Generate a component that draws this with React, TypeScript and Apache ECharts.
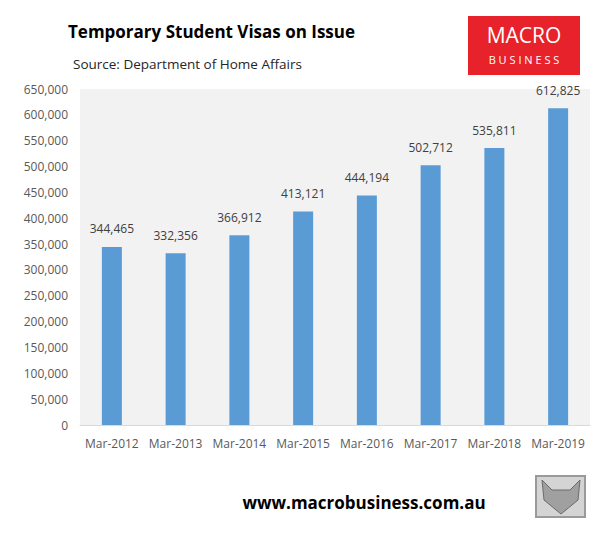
import React, { useEffect, useRef } from "react";
import * as echarts from "echarts";

const categories = ["Mar-2012", "Mar-2013", "Mar-2014", "Mar-2015", "Mar-2016", "Mar-2017", "Mar-2018", "Mar-2019"];
const visas = [344465, 332356, 366912, 413121, 444194, 502712, 535811, 612825];

const titleText = "Temporary Student Visas on Issue";
const sourceText = "Source: Department of Home Affairs";
const footerText = "www.macrobusiness.com.au";

const fmt = (v: number) => v.toLocaleString("en-US");

export default function App() {
  const ref = useRef<HTMLDivElement>(null);
  useEffect(() => {
    if (!ref.current) return;
    const chart = echarts.init(ref.current, null, { renderer: "svg" });
    const font = "'Open Sans', 'Liberation Sans', sans-serif";
    chart.setOption({
      animation: false,
      backgroundColor: "#ffffff",
      grid: { left: 80, right: 24, top: 89, bottom: 110, backgroundColor: "#f2f2f2", show: true, borderWidth: 0 },
      xAxis: {
        type: "category",
        data: categories,
        axisLine: { show: true, lineStyle: { color: "#d9d9d9", width: 1 } },
        axisTick: { show: false },
        axisLabel: { color: "#595959", fontSize: 12, fontFamily: font, margin: 12, interval: 0 },
      },
      yAxis: {
        type: "value",
        min: 0,
        max: 650000,
        interval: 50000,
        axisLine: { show: false },
        axisTick: { show: false },
        splitLine: { show: false },
        axisLabel: {
          color: "#595959",
          fontSize: 12,
          fontFamily: font,
          margin: 12,
          formatter: (v: number) => fmt(v),
        },
      },
      series: [
        {
          type: "bar",
          data: visas,
          barWidth: 20,
          itemStyle: { color: "#5b9bd5" },
          label: {
            show: true,
            position: "top",
            distance: 12,
            color: "#404040",
            fontSize: 12,
            fontFamily: font,
            formatter: (p: any) => fmt(p.value),
          },
        },
      ],
      graphic: [
        {
          type: "text",
          left: 68,
          top: 23,
          style: { text: titleText, font: `bold 17px ${font}`, fill: "#000000" },
        },
        {
          type: "text",
          left: 73,
          top: 57,
          style: { text: sourceText, font: `13.5px ${font}`, fill: "#262626" },
        },
        {
          type: "rect",
          shape: { x: 468, y: 16, width: 112, height: 59 },
          style: { fill: "#e8222a" },
        },
        {
          type: "text",
          x: 524,
          y: 35,
          style: { text: "MACRO", font: `21px ${font}`, fill: "#ffffff", align: "center", verticalAlign: "middle" },
        },
        {
          type: "text",
          x: 524,
          y: 59,
          style: { text: "B U S I N E S S", font: `11px ${font}`, fill: "#ffffff", align: "center", verticalAlign: "middle" },
        },
        {
          type: "text",
          x: 364,
          y: 502,
          style: { text: footerText, font: `bold 17px ${font}`, fill: "#000000", align: "center", verticalAlign: "middle" },
        },
        {
          type: "rect",
          shape: { x: 536, y: 476, width: 49, height: 41 },
          style: { fill: "#d4d4d4", stroke: "#9a9a9a", lineWidth: 2 },
        },
        {
          type: "polygon",
          shape: { points: [[542, 480], [552, 490], [570, 490], [580, 480], [578, 500], [561, 514], [544, 500]] },
          style: { fill: "#a0a0a0", stroke: "#6a6a6a", lineWidth: 1 },
        },
      ],
    });
    return () => chart.dispose();
  }, []);
  return <div ref={ref} style={{ width: 614, height: 535, position: "absolute", left: 0, top: 0 }} />;
}
